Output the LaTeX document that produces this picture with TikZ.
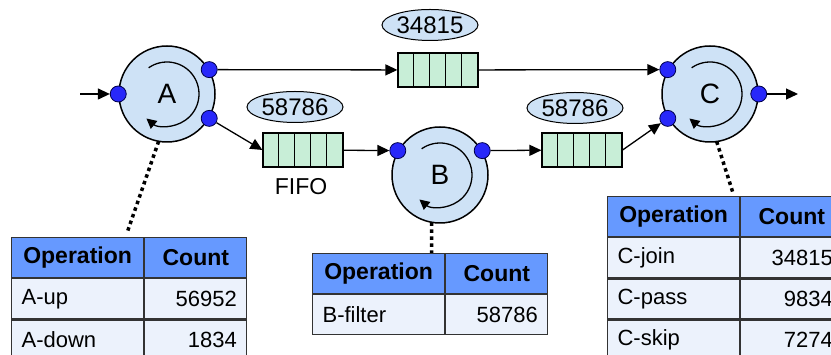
\documentclass[tikz,border=0pt]{standalone}
\usepackage{fontspec}
\setmainfont{Liberation Sans}
\usetikzlibrary{
    arrows.meta,
    shapes.geometric,
    positioning
}
\definecolor{procfill}{RGB}{206,226,246}
\definecolor{queuefill}{RGB}{200,238,215}
\definecolor{hdrblue}{RGB}{102,153,255}
\definecolor{rowfill}{RGB}{236,242,252}
\definecolor{portblue}{RGB}{40,40,250}
\tikzset{
    proc/.style={circle, draw, line width=1.5pt, fill=procfill, minimum size=96pt, inner sep=0pt, font=\fontsize{28}{30}\selectfont},
    spin/.style={line width=1.3pt, -{Triangle[length=10pt,width=10pt]}},
    buf/.style={rectangle, draw, line width=1.2pt, fill=queuefill, minimum width=80pt, minimum height=34pt, inner sep=0pt},
    cnt/.style={ellipse, draw, line width=1pt, fill=procfill, minimum width=96pt, minimum height=31pt, inner sep=0pt, font=\fontsize{24}{26}\selectfont},
    port/.style={circle, draw=black!70!blue, fill=portblue, line width=0.8pt, minimum size=16pt, inner sep=0pt},
    flow/.style={line width=1.3pt, -{Triangle[length=12pt,width=11pt]}},
    tablelink/.style={line width=3.5pt, dash pattern=on 3.5pt off 3.5pt},
    cellbase/.style={draw=black!80, line width=1.2pt, minimum height=40pt, inner ysep=0pt, inner xsep=10pt, font=\fontsize{22}{24}\selectfont},
    hdrop/.style={cellbase, fill=hdrblue, text width=112pt, align=center, font=\fontsize{23}{25}\selectfont\bfseries},
    hdrcnt/.style={cellbase, fill=hdrblue, text width=82pt, align=center, font=\fontsize{23}{25}\selectfont\bfseries},
    opcell/.style={cellbase, fill=rowfill, text width=112pt, align=left},
    cntcell/.style={cellbase, fill=rowfill, text width=82pt, align=right}
}
\begin{document}
\begin{tikzpicture}[x=1pt, y=1pt, node distance=0pt]
\useasboundingbox (0,0) rectangle (831,355);
\clip (0,0) rectangle (831,355);

% links from operators down to their tables
\coordinate (ta-pin) at (127,122);
\coordinate (tc-pin) at (733,162);
\draw[tablelink] (167,261) ++(-100:48) -- (ta-pin);
\draw[tablelink] (440,180) ++(-100:48) -- (431.7,100);
\draw[tablelink] (710,261) ++(-82:48) -- (tc-pin);

% operators
\node[proc] (A) at (167,261) {A};
\node[proc] (B) at (440,180) {B};
\node[proc] (C) at (710,261) {C};
\foreach \n in {A,B,C} {
    \draw[spin] ([shift={(125:32pt)}]\n.center) arc[start angle=125, end angle=-130, radius=32pt];
}

% queues
\node[buf] (qtop) at (438,285) {};
\node[buf] (qleft) at (303,205) {};
\node[buf] (qright) at (582,205) {};
\foreach \q in {qtop,qleft,qright} {
    \foreach \i in {1,...,4} {
        \draw[line width=1pt] ([xshift=\i*16pt]\q.north west) -- ([xshift=\i*16pt]\q.south west);
    }
}
\node[cnt] (ntop) at (430,330) {34815};
\node[cnt] (nleft) at (295,248) {58786};
\node[cnt] (nright) at (575,247) {58786};
\node[font=\fontsize{23}{25}\selectfont] (fifo) at (301,168) {FIFO};

% ports
\node[port] (A-in) at (A.180) {};
\node[port] (A-up) at (A.30) {};
\node[port] (A-down) at (A.-30) {};
\node[port] (B-in) at (B.150) {};
\node[port] (B-out) at (B.30) {};
\node[port] (C-up) at (C.150) {};
\node[port] (C-down) at (C.210) {};
\node[port] (C-out) at (C.0) {};

% data flow
\coordinate (src) at (80,261);
\coordinate (sink) at (798,261);
\draw[flow] (src) -- (A-in);
\draw[flow] (A-up) -- (qtop);
\draw[flow] (qtop) -- (C-up);
\draw[flow] (A-down) -- (qleft.west);
\draw[flow] (qleft) -- (B-in);
\draw[flow] (B-out) -- (qright);
\draw[flow] (qright.east) -- (C-down);
\draw[flow] (C-out) -- (sink);

% table A
\node[hdrop, anchor=north west] (ta-op) at (11,118) {Operation};
\node[hdrcnt, right=of ta-op] (ta-cnt) {Count};
\node[opcell, below=of ta-op] (ta-op1) {A-up};
\node[cntcell, below=of ta-cnt] (ta-cnt1) {56952};
\node[opcell, below=of ta-op1] (ta-op2) {A-down};
\node[cntcell, below=of ta-cnt1] (ta-cnt2) {1834};

% table B
\node[hdrop, anchor=north west] (tb-op) at (312,102) {Operation};
\node[hdrcnt, right=of tb-op] (tb-cnt) {Count};
\node[opcell, below=of tb-op] (tb-op1) {B-filter};
\node[cntcell, below=of tb-cnt] (tb-cnt1) {58786};

% table C
\node[hdrop, anchor=north west] (tc-op) at (607,159) {Operation};
\node[hdrcnt, right=of tc-op] (tc-cnt) {Count};
\node[opcell, below=of tc-op] (tc-op1) {C-join};
\node[cntcell, below=of tc-cnt] (tc-cnt1) {34815};
\node[opcell, below=of tc-op1] (tc-op2) {C-pass};
\node[cntcell, below=of tc-cnt1] (tc-cnt2) {9834};
\node[opcell, below=of tc-op2] (tc-op3) {C-skip};
\node[cntcell, below=of tc-cnt2] (tc-cnt3) {7274};
\end{tikzpicture}
\end{document}
